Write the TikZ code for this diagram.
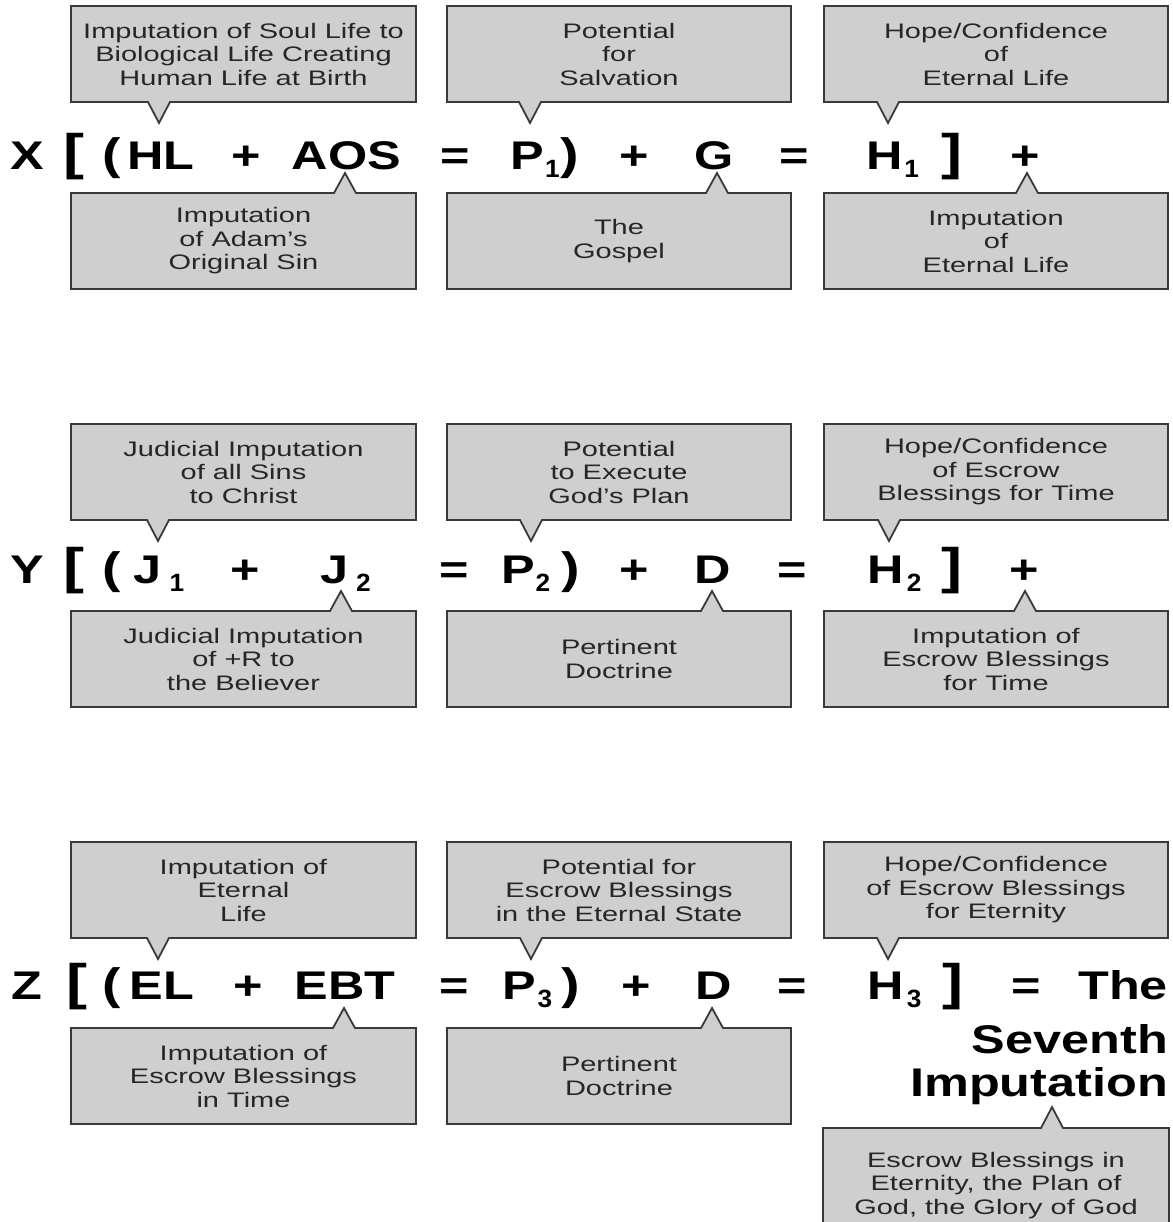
\documentclass[tikz,border=0pt]{standalone}
\usepackage{fontspec}
\setmainfont{Liberation Sans}
\newfontfamily\boxfont[FakeStretch=1.38]{Liberation Sans}
\newfontfamily\eqfont[FakeStretch=1.26]{Liberation Sans Bold}
\newfontfamily\subfont[FakeStretch=1.05]{Liberation Sans Bold}
\definecolor{boxfill}{HTML}{CFCFCF}
\definecolor{boxline}{HTML}{3A3A3A}
\definecolor{boxtextcol}{HTML}{262626}
\tikzset{
  calloutbox/.style={fill=boxfill, draw=boxline, line width=1.8pt, line join=miter},
  boxlabel/.style={font=\boxfont\fontsize{21}{23.5}\selectfont, text=boxtextcol, align=center, inner sep=0pt},
  eqtok/.style={font=\eqfont\fontsize{40}{48}\selectfont, inner sep=0pt, anchor=base},
  brack/.style={font=\eqfont\fontsize{50}{60}\selectfont, inner sep=0pt, anchor=base},
  paren/.style={font=\eqfont\fontsize{44}{50}\selectfont, inner sep=0pt, anchor=base},
  bigword/.style={font=\eqfont\fontsize{40}{48}\selectfont, inner sep=0pt, anchor=base east},
}
\newcommand\subx[1]{\raisebox{-8pt}{\subfont\fontsize{25}{25}\selectfont #1}}
% name, x1, x2, ytop, pointer x, text
\newcommand\topcall[6]{%
  \draw[calloutbox] ({#2},{#4}) -- ({#3},{#4}) -- ({#3},{#4+96}) -- ({#5+11},{#4+96}) -- ({#5},{#4+117}) -- ({#5-11},{#4+96}) -- ({#2},{#4+96}) -- cycle;
  \node[boxlabel] (#1) at ({(#2+#3)/2},{#4+48}) {#6};}
\newcommand\botcall[6]{%
  \draw[calloutbox] ({#2},{#4}) -- ({#5-11},{#4}) -- ({#5},{#4-20}) -- ({#5+11},{#4}) -- ({#3},{#4}) -- ({#3},{#4+96}) -- ({#2},{#4+96}) -- cycle;
  \node[boxlabel] (#1) at ({(#2+#3)/2},{#4+48}) {#6};}
\begin{document}
\begin{tikzpicture}[x=1pt,y=-1pt]
\useasboundingbox (0,0) rectangle (1172,1222);
\clip (0,0) rectangle (1172,1222);
\fill[white] (0,0) rectangle (1172,1222);

% ---------- Row X ----------
\topcall{xt1}{71}{416}{6}{159}{Imputation of Soul Life to\\Biological Life Creating\\Human Life at Birth}
\topcall{xt2}{447}{791}{6}{530}{Potential\\for\\Salvation}
\topcall{xt3}{824}{1168}{6}{888}{Hope/Confidence\\of\\Eternal Life}
\botcall{xb1}{71}{416}{193}{345}{Imputation\\of Adam’s\\Original Sin}
\botcall{xb2}{447}{791}{193}{717}{The\\Gospel}
\botcall{xb3}{824}{1168}{193}{1027}{Imputation\\of\\Eternal Life}

\node[eqtok] (xX) at (27,170) {X};
\node[brack] (xLB) at (73.5,170) {[};
\node[paren] (xLP) at (111.5,170) {(};
\node[eqtok] (xHL) at (161,170) {HL};
\node[eqtok] (xPl1) at (246.5,170) {+};
\node[eqtok] (xAOS) at (346.5,170) {AOS};
\node[eqtok] (xEq1) at (455.5,170) {=};
\node[eqtok] (xP) at (535,170) {P\kern1pt\subx{1}};
\node[paren] (xRP) at (569.5,170) {)};
\node[eqtok] (xPl2) at (634.5,170) {+};
\node[eqtok] (xG) at (714.5,170) {G};
\node[eqtok] (xEq2) at (794.5,170) {=};
\node[eqtok] (xH) at (892.5,170) {H\kern2pt\subx{1}};
\node[brack] (xRB) at (951.5,170) {]};
\node[eqtok] (xPl3) at (1025,170) {+};

% ---------- Row Y ----------
\topcall{yt1}{71}{416}{424}{158}{Judicial Imputation\\of all Sins\\to Christ}
\topcall{yt2}{447}{791}{424}{531}{Potential\\to Execute\\God’s Plan}
\topcall{yt3}{824}{1168}{424}{889}{Hope/Confidence\\of Escrow\\Blessings for Time}
\botcall{yb1}{71}{416}{611}{341}{Judicial Imputation\\of +R to\\the Believer}
\botcall{yb2}{447}{791}{611}{712}{Pertinent\\Doctrine}
\botcall{yb3}{824}{1168}{611}{1025}{Imputation of\\Escrow Blessings\\for Time}

\node[eqtok] (yY) at (27,583) {Y};
\node[brack] (yLB) at (73.5,583) {[};
\node[paren] (yLP) at (111.5,583) {(};
\node[eqtok] (yJ1) at (159,583) {J\hspace{8pt}\subx{1}};
\node[eqtok] (yPl1) at (245.5,583) {+};
\node[eqtok] (yJ2) at (345.5,583) {J\hspace{8pt}\subx{2}};
\node[eqtok] (yEq1) at (454.5,583) {=};
\node[eqtok] (yP) at (526,583) {P\subx{2}};
\node[paren] (yRP) at (570.5,583) {)};
\node[eqtok] (yPl2) at (634.5,583) {+};
\node[eqtok] (yD) at (713,583) {D};
\node[eqtok] (yEq2) at (792.5,583) {=};
\node[eqtok] (yH) at (894.5,583) {H\kern3pt\subx{2}};
\node[brack] (yRB) at (951.5,583) {]};
\node[eqtok] (yPl3) at (1024,583) {+};

% ---------- Row Z ----------
\topcall{zt1}{71}{416}{842}{158}{Imputation of\\Eternal\\Life}
\topcall{zt2}{447}{791}{842}{531}{Potential for\\Escrow Blessings\\in the Eternal State}
\topcall{zt3}{824}{1168}{842}{888}{Hope/Confidence\\of Escrow Blessings\\for Eternity}
\botcall{zb1}{71}{416}{1028}{344}{Imputation of\\Escrow Blessings\\in Time}
\botcall{zb2}{447}{791}{1028}{712}{Pertinent\\Doctrine}
\draw[calloutbox] (823,1128) -- (1041,1128) -- (1052,1107) -- (1063,1128) -- (1169,1128) -- (1169,1240) -- (823,1240) -- cycle;
\node[boxlabel, anchor=north] (zb3) at (996,1152) {Escrow Blessings in\\Eternity, the Plan of\\God, the Glory of God};

\node[eqtok] (zZ) at (26.5,999) {Z};
\node[brack] (zLB) at (76.5,999) {[};
\node[paren] (zLP) at (112,999) {(};
\node[eqtok] (zEL) at (162,999) {EL};
\node[eqtok] (zPl1) at (248.5,999) {+};
\node[eqtok] (zEBT) at (345,999) {EBT};
\node[eqtok] (zEq1) at (454.5,999) {=};
\node[eqtok] (zP) at (527.5,999) {P\kern1pt\subx{3}};
\node[paren] (zRP) at (570.5,999) {)};
\node[eqtok] (zPl2) at (636.5,999) {+};
\node[eqtok] (zD) at (714,999) {D};
\node[eqtok] (zEq2) at (792.5,999) {=};
\node[eqtok] (zH) at (894.5,999) {H\kern3pt\subx{3}};
\node[brack] (zRB) at (952.5,999) {]};
\node[eqtok] (zEq3) at (1026,999) {=};
\node[bigword] (zThe) at (1168,999) {The};
\node[bigword] (zSev) at (1168,1053) {Seventh};
\node[bigword] (zImp) at (1168,1096) {Imputation};
\end{tikzpicture}
\end{document}
